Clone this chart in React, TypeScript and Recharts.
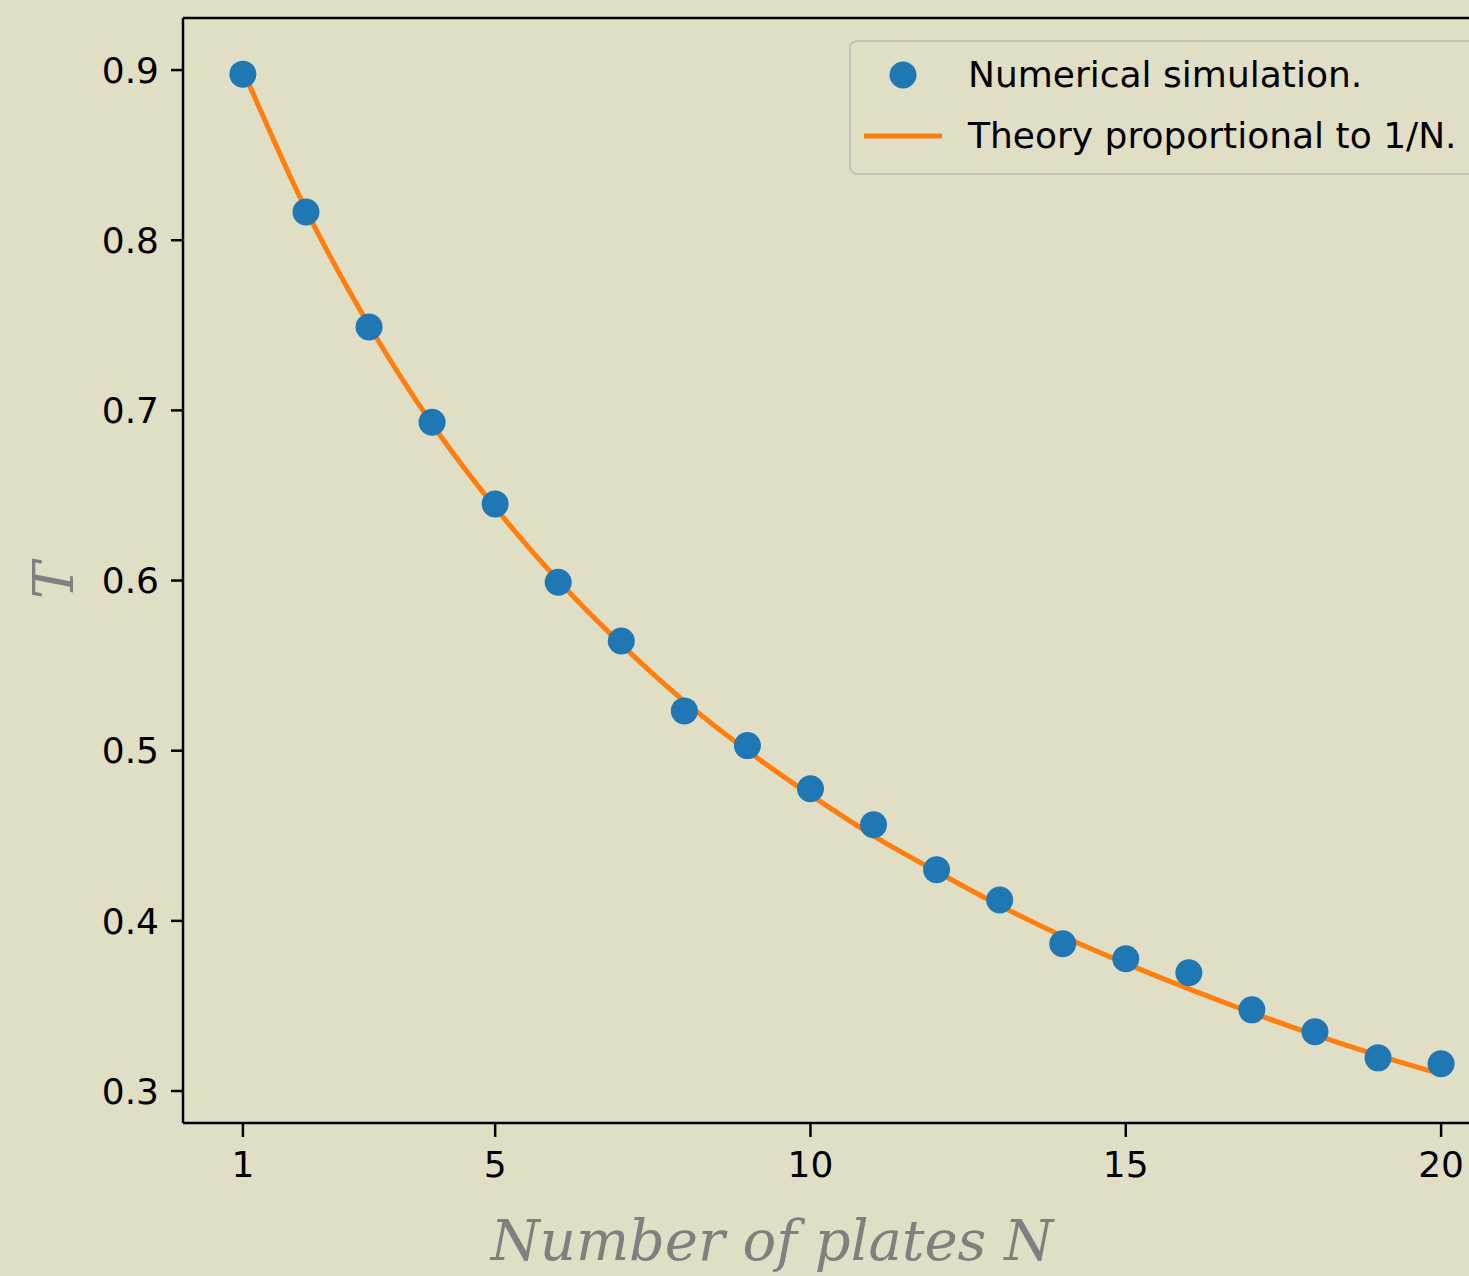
import React from 'react';
import { ComposedChart, Line, Scatter, XAxis, YAxis, Label, ReferenceLine } from 'recharts';

const plates = [1, 2, 3, 4, 5, 6, 7, 8, 9, 10, 11, 12, 13, 14, 15, 16, 17, 18, 19, 20];
const simulated = [
  0.8976, 0.8166, 0.749, 0.693, 0.645, 0.599, 0.5645, 0.5234, 0.503, 0.4776,
  0.4565, 0.43, 0.4123, 0.3865, 0.3777, 0.3695, 0.3477, 0.3348, 0.3195, 0.316
];
const theory = [
  0.9, 0.818, 0.75, 0.692, 0.643, 0.6, 0.5625, 0.529, 0.5, 0.474,
  0.45, 0.429, 0.409, 0.391, 0.375, 0.36, 0.346, 0.333, 0.321, 0.31
];
const xTicks = [1, 5, 10, 15, 20];
const yTicks = [0.3, 0.4, 0.5, 0.6, 0.7, 0.8, 0.9];
const yDomain = [0.2812, 0.9306];

const rows = plates.map((n, i) => ({ n, sim: simulated[i], theory: theory[i] }));

const BG = '#e1dec6';
const BLUE = '#1f77b4';
const ORANGE = '#ff7f0e';
const tickFont = { fontFamily: 'DejaVu Sans', fontSize: 36, fill: '#000' };
const labelFont = { fontFamily: 'DejaVu Serif', fontStyle: 'italic', fontSize: 56, fill: '#808080' };

const Dot = (props: any) => <circle cx={props.cx} cy={props.cy} r={13.5} fill={BLUE} />;

export default function App() {
  return (
    <div style={{ position: 'absolute', left: 0, top: 0, width: 1469, height: 1276, overflow: 'hidden', background: BG }}>
      <ComposedChart
        width={1560}
        height={1276}
        data={rows}
        margin={{ top: 18, right: 59, left: 0, bottom: 0 }}
        style={{ background: BG }}
      >
        <XAxis
          dataKey="n"
          type="number"
          domain={[0.05, 20.95]}
          ticks={xTicks}
          allowDataOverflow
          height={153}
          tickSize={14}
          tickMargin={14}
          tick={tickFont}
          axisLine={{ stroke: '#000', strokeWidth: 2.5 }}
          tickLine={{ stroke: '#000', strokeWidth: 2.5 }}
        >
          <Label
            content={({ viewBox }: any) => (
              <text
                x={viewBox.x + viewBox.width / 2 - 70}
                y={viewBox.y + 137}
                textAnchor="middle"
                {...labelFont}
              >
                Number of plates N
              </text>
            )}
          />
        </XAxis>
        <YAxis
          type="number"
          domain={yDomain}
          ticks={yTicks}
          allowDataOverflow
          width={183}
          tickSize={12}
          tickMargin={12}
          tick={tickFont}
          tickFormatter={(v: number) => v.toFixed(1)}
          axisLine={{ stroke: '#000', strokeWidth: 2.5 }}
          tickLine={{ stroke: '#000', strokeWidth: 2.5 }}
        >
          <Label
            content={({ viewBox }: any) => {
              const cx = viewBox.x + 53;
              const cy = viewBox.y + viewBox.height / 2 + 10;
              return (
                <text
                  x={cx}
                  y={cy}
                  textAnchor="middle"
                  dominantBaseline="central"
                  transform={`rotate(-90 ${cx} ${cy})`}
                  {...labelFont}
                >
                  T
                </text>
              );
            }}
          />
        </YAxis>
        {/* top spine */}
        <ReferenceLine y={yDomain[1]} stroke="#000" strokeWidth={2.5} ifOverflow="visible" />
        <Scatter dataKey="sim" fill={BLUE} shape={Dot} isAnimationActive={false} />
        <Line
          dataKey="theory"
          type="monotone"
          stroke={ORANGE}
          strokeWidth={5}
          dot={false}
          activeDot={false}
          isAnimationActive={false}
        />
      </ComposedChart>

      <div
        style={{
          position: 'absolute',
          left: 849,
          top: 40,
          width: 680,
          height: 131,
          border: '2px solid #c4c3ba',
          borderRadius: 8,
          background: BG,
          fontFamily: 'DejaVu Sans',
          fontSize: 36,
          color: '#000',
        }}
      >
        <svg width={100} height={131} style={{ position: 'absolute', left: 0, top: 0 }}>
          <circle cx={52} cy={33} r={13.5} fill={BLUE} />
          <line x1={13} x2={91} y1={94} y2={94} stroke={ORANGE} strokeWidth={5} />
        </svg>
        <div style={{ position: 'absolute', left: 117, top: 12, lineHeight: '42px', whiteSpace: 'nowrap' }}>
          Numerical simulation.
        </div>
        <div style={{ position: 'absolute', left: 117, top: 73, lineHeight: '42px', whiteSpace: 'nowrap' }}>
          Theory proportional to 1/N.
        </div>
      </div>
    </div>
  );
}
